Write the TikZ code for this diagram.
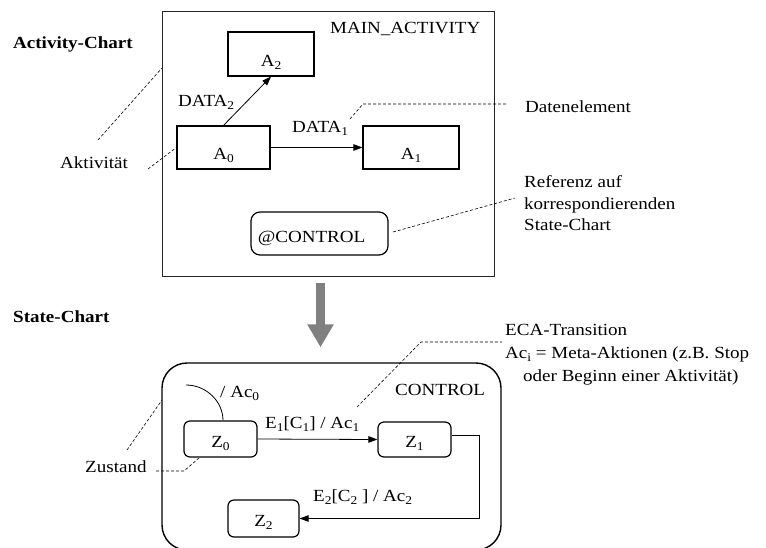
\documentclass[tikz,border=0pt]{standalone}
\usepackage{fontspec}
\setmainfont[FakeStretch=1.12]{Liberation Serif}
\usetikzlibrary{arrows.meta}
% lowered, smaller index text
\newcommand{\lo}[1]{\raisebox{-3pt}{\fontsize{12}{12}\selectfont #1}}

\begin{document}
\begin{tikzpicture}[x=1pt,y=-1pt,
  every node/.style={font=\fontsize{17}{21.5}\selectfont, inner sep=0pt},
  txt/.style={anchor=base west},
  head/.style={txt, font=\fontsize{17}{20}\selectfont\bfseries},
  actbox/.style={draw, line width=1.2pt, text height=24pt, text depth=0pt},
  statebox/.style={draw, line width=1.2pt, rounded corners=6pt, text height=16pt, text depth=0pt},
  flow/.style={line width=0.8pt, -{Triangle[length=9pt,width=6.5pt]}},
  note/.style={line width=0.6pt, dash pattern=on 3pt off 2pt},
  bigarrow/.style={line width=9pt, draw=black!50, -{Triangle[length=23pt,width=25pt]}}
]
\useasboundingbox (0,0) rectangle (766,547);

% ---------------- activity chart ----------------
\node[head] (acttitle) at (13,48.3) {Activity-Chart};
\node[draw=black!85, line width=0.9pt, minimum width=332pt, minimum height=265pt] (mainact) at (328,143.5) {};
\node[txt] (mainname) at (330,33.3) {MAIN\_ACTIVITY};

\node[actbox, minimum width=86pt, minimum height=44pt] (a2) at (271,54) {A\lo{2}};
\node[actbox, minimum width=93pt, minimum height=43pt] (a0) at (223.5,147.5) {A\lo{0}};
\node[actbox, minimum width=96pt, minimum height=43pt] (a1) at (411,147.5) {A\lo{1}};
\node[draw, line width=1.2pt, rounded corners=9pt, minimum width=137pt, minimum height=43pt,
      text height=18pt, text depth=0pt] (ref) at (319.5,233.5) {@CONTROL\hspace*{16pt}};

\draw[flow] (a0.north) -- (a2.south);
\draw[flow] (a0.east) -- (a1.west);

\node[txt] (data2) at (178,106) {DATA\lo{2}};
\node[txt] (data1) at (292,132) {DATA\lo{1}};

% annotations
\node[txt] (aktiv) at (60,168.3) {Aktivität};
\node[txt] (datel) at (525,112.3) {Datenelement};
\node[anchor=north west, align=left] (refnote) at (524,175.4) {Referenz auf\\korrespondierenden\\State-Chart};

\draw[note] (98,140) -- (162,68);
\draw[note] (148,169) -- (a0.west);
\draw[note] (350,119) -- (363,104) -- (507,104);
\draw[note] (393,232) -- (515,198);

% ---------------- state chart ----------------
\node[head] (sttitle) at (13,322.7) {State-Chart};
\node[draw, line width=1.4pt, rounded corners=25pt, minimum width=339pt, minimum height=187pt] (ctrl) at (331.5,456.5) {};
\node[txt] (ctrlname) at (395,395) {CONTROL};

% from the activity chart down to its state chart
\draw[bigarrow] ([xshift=-7.5pt,yshift=-7pt]mainact.south) -- ([xshift=-11pt,yshift=15pt]ctrl.north);

\node[statebox, minimum width=73pt, minimum height=36pt] (z0) at (220.5,439) {Z\lo{0}};
\node[statebox, minimum width=73pt, minimum height=35pt] (z1) at (414.5,439.5) {Z\lo{1}};
\node[statebox, minimum width=71pt, minimum height=37pt] (z2) at (263.5,518.5) {Z\lo{2}};

\draw[line width=0.8pt] (186,385) .. controls (206.4,385) and (223,401.6) .. ([xshift=2.5pt]z0.north);
\draw[flow] (z0.east) -- (z1.west);
\draw[flow] ([yshift=4pt]z1.east) -- ++(28,0) |- (z2.east);

\node[txt] (ac0) at (220,397) {/ Ac\lo{0}};
\node[txt] (t1) at (265,428.3) {E\lo{1}[C\lo{1}] / Ac\lo{1}};
\node[txt] (t2) at (313,501.7) {E\lo{2}[C\lo{2} ] / Ac\lo{2}};

% annotations
\node[txt] (zust) at (85,472.7) {Zustand};
\node[anchor=north west, align=left, font=\fontsize{17}{23}\selectfont] (ecanote) at (505,324.5)
  {ECA-Transition\\Ac\lo{i} = Meta-Aktionen (z.B. Stop\\\hspace*{18pt}oder Beginn einer Aktivität)};

\draw[note] (127,450) -- (162,400);
\draw[note] (156,471) -- (184,471) -- (199,458);
\draw[note] (357,407) -- (421,342) -- (502,342);
\end{tikzpicture}
\end{document}
